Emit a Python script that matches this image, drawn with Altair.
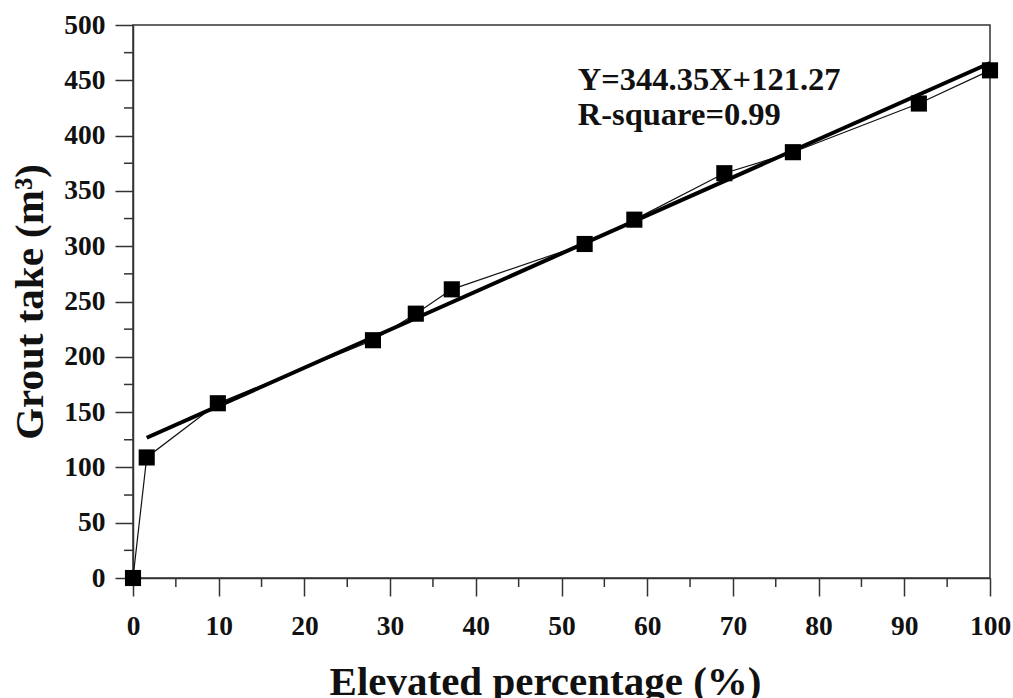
import altair as alt
import pandas as pd

# Observed data
x_pct = [0, 1.6, 9.9, 28.0, 33.0, 37.2, 52.7, 58.5, 69.0, 77.0, 91.7, 100]
grout = [0, 109, 158, 215, 239, 261, 302, 324, 366, 385, 429, 459]

# Fitted line endpoints (Y=344.35X+121.27)
fit_x = [1.6, 100]
fit_y = [126.8, 465.6]

ann_lines = ["Y=344.35X+121.27", "R-square=0.99"]

# Tick values
x_major = list(range(0, 101, 10))
y_major = list(range(0, 501, 50))
x_minor = [5, 15, 25, 35, 45, 55, 65, 75, 85, 95]
y_minor = [25, 75, 125, 175, 225, 275, 325, 375, 425, 475]

df = pd.DataFrame({"x": x_pct, "y": grout})
fit = pd.DataFrame({"x": fit_x, "y": fit_y})

FONT = "Liberation Serif"
W, H = 857, 553

xs = alt.Scale(domain=[0, 100], nice=False, zero=False)
ys = alt.Scale(domain=[0, 500], nice=False, zero=False)

xaxis = alt.Axis(
    values=x_major, labelFlush=False, tickSize=18,
    title="Elevated percentage (%)",
    titleX=412, titleY=84, titleBaseline="top",
)
yaxis = alt.Axis(
    values=y_major, labelFlush=False, tickSize=18,
    title="Grout take (m³)",
)

base = alt.Chart(df)
conn = base.mark_line(color="#111", strokeWidth=1.2).encode(
    x=alt.X("x:Q", scale=xs, axis=xaxis),
    y=alt.Y("y:Q", scale=ys, axis=yaxis),
)
fitline = alt.Chart(fit).mark_line(color="black", strokeWidth=4).encode(
    x=alt.X("x:Q", scale=xs), y=alt.Y("y:Q", scale=ys)
)
pts = base.mark_point(shape="square", filled=True, color="black", opacity=1, size=260).encode(
    x=alt.X("x:Q", scale=xs), y=alt.Y("y:Q", scale=ys)
)
xmin = alt.Chart(pd.DataFrame({"v": x_minor})).mark_rule(color="#333", strokeWidth=1.5, clip=False).encode(
    x=alt.X("v:Q", scale=xs), y=alt.value(H), y2=alt.value(H + 9)
)
ymin = alt.Chart(pd.DataFrame({"v": y_minor})).mark_rule(color="#333", strokeWidth=1.5, clip=False).encode(
    y=alt.Y("v:Q", scale=ys), x=alt.value(0), x2=alt.value(-9)
)
ann = alt.Chart(pd.DataFrame({"t": ann_lines, "i": [0, 1]})).mark_text(
    align="left", baseline="alphabetic", font=FONT, fontWeight="bold", fontSize=32.5, color="#111"
).encode(
    x=alt.datum(51.9),
    y=alt.Y("yy:Q", scale=ys),
    text="t:N",
).transform_calculate(yy="441 - datum.i * 31.6")

chart = alt.layer(conn, fitline, xmin, ymin, pts, ann).properties(
    width=W, height=H,
    padding={"left": 133, "top": 25, "right": 23, "bottom": 120},
    autosize=alt.AutoSizeParams(type="none"),
).configure_view(stroke="#333", strokeWidth=1.5).configure_axis(
    domainColor="#333", domainWidth=1.5, tickColor="#333", tickWidth=1.5,
    labelFont=FONT, labelFontWeight="bold", labelFontSize=27.5, labelColor="#111",
    titleFont=FONT, titleFontWeight="bold", titleFontSize=41, titleColor="#111",
    grid=False,
).configure_axisX(labelPadding=16).configure_axisY(labelPadding=10, titlePadding=12)

chart.save("out.html", embed_options={"renderer": "svg", "actions": False})
